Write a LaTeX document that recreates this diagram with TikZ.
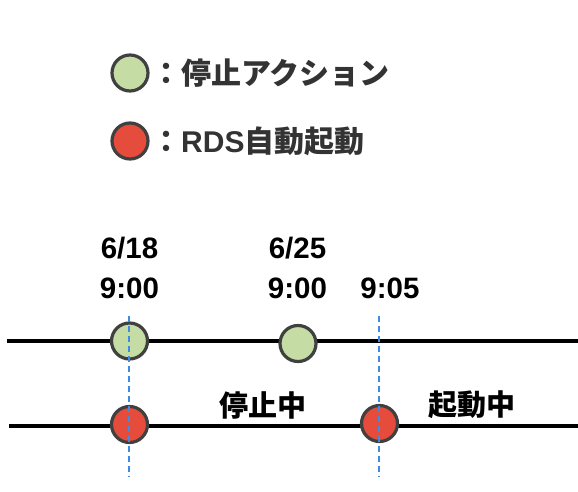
\documentclass[tikz,border=0pt]{standalone}
\usepackage{fontspec}
\setmainfont{Liberation Sans}
\newfontfamily\jp{Noto Sans CJK JP}
\definecolor{stopgreen}{RGB}{197,221,165}
\definecolor{startred}{RGB}{229,76,60}
\definecolor{ringgray}{RGB}{64,64,64}
\definecolor{guideblue}{RGB}{60,140,228}
\definecolor{legendgray}{RGB}{51,51,51}
\tikzset{
  evt/.style={circle, draw=ringgray, line width=3.2pt, minimum size=36pt, inner sep=0pt},
  stopev/.style={evt, fill=stopgreen},
  startev/.style={evt, fill=startred},
  axisline/.style={line width=3.3pt, black},
  guide/.style={draw=guideblue, line width=1.7pt, dash pattern=on 6pt off 4pt},
  numlbl/.style={font=\bfseries\fontsize{29.5}{29.5}\selectfont, inner sep=0pt, anchor=base, text=black},
  jlbl/.style={font=\jp\bfseries\fontsize{29}{29}\selectfont, inner sep=0pt, text=black},
  legendtxt/.style={font=\jp\bfseries\fontsize{30}{30}\selectfont, inner sep=0pt, anchor=west, text=legendgray}
}
\begin{document}
\begin{tikzpicture}[x=1pt,y=-1pt]
\useasboundingbox (0,0) rectangle (578,492);
% legend
\node[stopev] (lg) at (130,73) {};
\node[startev] (lr) at (130,141) {};
\node[legendtxt] (lgt) at (151,73) {：停止アクション};
\node[legendtxt] (lrt) at (151,141) {：{\fontspec{Liberation Sans}\bfseries RDS}自動起動};
% time labels
\node[numlbl] (d1) at (129.5,258) {6/18};
\node[numlbl] (h1) at (129.5,298) {9:00};
\node[numlbl] (d2) at (297.5,258) {6/25};
\node[numlbl] (h2) at (297.5,298) {9:00};
\node[numlbl] (h3) at (390,298) {9:05};
% axes
\coordinate (a0) at (7,341);
\coordinate (a1) at (578,341);
\coordinate (b0) at (9,426);
\coordinate (b1) at (578,426);
\draw[axisline] (a0) -- (a1);
\draw[axisline] (b0) -- (b1);
% events
\node[stopev] (g1) at (129.5,341) {};
\node[stopev] (g2) at (298,343.5) {};
\node[startev] (r1) at (129.5,424.5) {};
\node[startev] (r2) at (379.5,423.5) {};
% state labels
\node[jlbl] (s1) at (262.5,405) {停止中};
\node[jlbl] (s2) at (472,405) {起動中};
% guides
\coordinate (u0) at (129,316);
\coordinate (u1) at (129,477);
\coordinate (v0) at (379,316);
\coordinate (v1) at (379,477);
\draw[guide] (u0) -- (u1);
\draw[guide] (v0) -- (v1);
\end{tikzpicture}
\end{document}
